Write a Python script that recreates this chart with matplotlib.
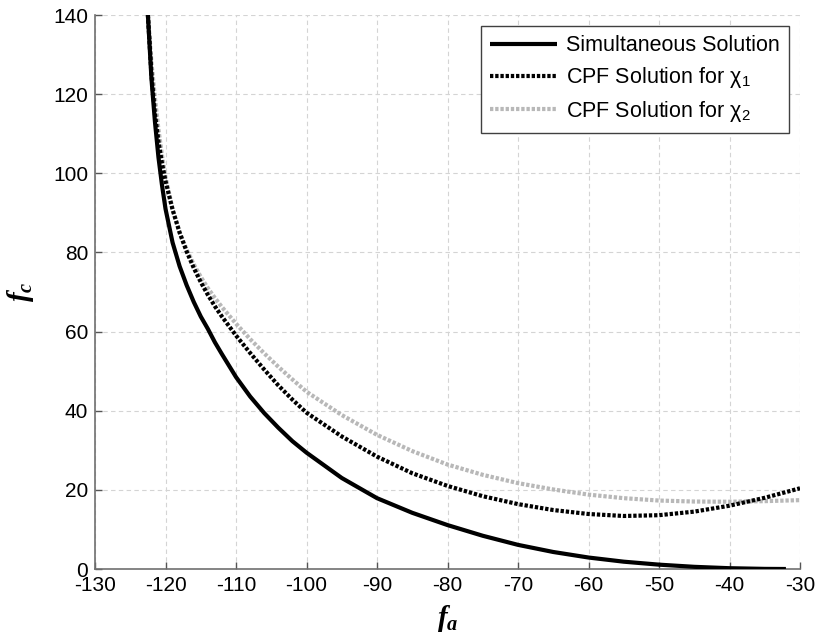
import numpy as np
import matplotlib
matplotlib.use('Agg')
import matplotlib.pyplot as plt

plt.rcParams['font.family'] = ['Liberation Sans', 'DejaVu Sans']
plt.rcParams['axes.unicode_minus'] = False
plt.rcParams['mathtext.fontset'] = 'custom'
plt.rcParams['mathtext.rm'] = 'Liberation Serif:bold'
plt.rcParams['mathtext.it'] = 'Liberation Serif:italic:bold'
plt.rcParams['mathtext.bf'] = 'Liberation Serif:italic:bold'

# values
fa = [-122.5, -122, -121.5, -121, -120.5, -120, -119, -118, -117, -116,
      -115, -114, -113, -112, -110, -108, -106, -104, -102, -100, -95, -90,
      -85, -80, -75, -70, -65, -60, -55, -50, -45, -40, -35]

fc_sim = [140, 124, 113, 104, 97, 91, 82.5, 76.5, 71.7, 67.5,
          63.8, 60.7, 57.3, 54.3, 48.5, 43.6, 39.4, 35.7, 32.3, 29.4, 23, 17.9,
          14.2, 11.1, 8.4, 6.1, 4.3, 2.9, 1.85, 1.1, 0.55, 0.2, 0.03]
fa_sim_end = [-32]
fc_sim_end = [0]

fa_cpf = fa + [-30]
fc_chi1 = [140, 125, 115, 108, 102.5, 98, 90.8, 85, 80.2, 76.1,
           72.5, 69.3, 66.4, 63.8, 59, 54.6, 50.4, 46.4, 42.8, 39.5, 33.5, 28.4,
           24.2, 21, 18.4, 16.4, 14.9, 13.9, 13.4, 13.6, 14.5, 16, 18, 20.4]
fc_chi2 = [140, 128, 119, 111, 104.5, 99, 91, 85.1, 80.7, 77,
           73.8, 71, 68.5, 66.2, 62, 58.1, 54.5, 51.1, 47.9, 44.8, 38.9, 33.9,
           29.8, 26.4, 23.8, 21.7, 20.1, 18.8, 17.9, 17.3, 17.05, 17.0, 17.15, 17.4]

xticks = list(range(-130, -29, 10))
yticks = list(range(0, 141, 20))

fig = plt.figure(figsize=(8.15, 6.42), dpi=100)
ax = fig.add_axes([0.1166, 0.1137, 0.8650, 0.8629])

ax.plot(fa + fa_sim_end, fc_sim + fc_sim_end, color='black', lw=3,
        solid_capstyle='butt', label='Simultaneous Solution', zorder=4)
ax.plot(fa_cpf, fc_chi1, color='black', lw=3, linestyle=(0, (0.8, 0.45)),
        label=r'CPF Solution for $\mathregular{\chi_1}$', zorder=3)
ax.plot(fa_cpf, fc_chi2, color='#b8b8b8', lw=3, linestyle=(0, (0.8, 0.45)),
        label=r'CPF Solution for $\mathregular{\chi_2}$', zorder=2)

ax.set_xlim(-130, -30)
ax.set_ylim(0, 140)
ax.set_xticks(xticks)
ax.set_yticks(yticks)
ax.tick_params(direction='in', length=5, width=1, color='#555555',
               labelsize=15, labelcolor='black', pad=5)
ax.grid(True, color='#d4d4d4', linestyle=(0, (4, 3)), linewidth=0.8)
ax.set_axisbelow(True)
for s in ['top', 'right']:
    ax.spines[s].set_visible(False)
for s in ['left', 'bottom']:
    ax.spines[s].set_color('#707070')
    ax.spines[s].set_linewidth(1.2)

ax.set_xlabel(r'$f_a$', fontsize=21, labelpad=6)
ax.set_ylabel(r'$f_c$', fontsize=21, labelpad=12, rotation=90)

leg = ax.legend(loc='upper right', fontsize=15.5, fancybox=False, framealpha=1,
                edgecolor='#404040', handlelength=3.1, handletextpad=0.4,
                borderpad=0.45, labelspacing=0.4, borderaxespad=0.5)
leg.get_frame().set_linewidth(1.0)

fig.savefig('out.png', dpi=100)
